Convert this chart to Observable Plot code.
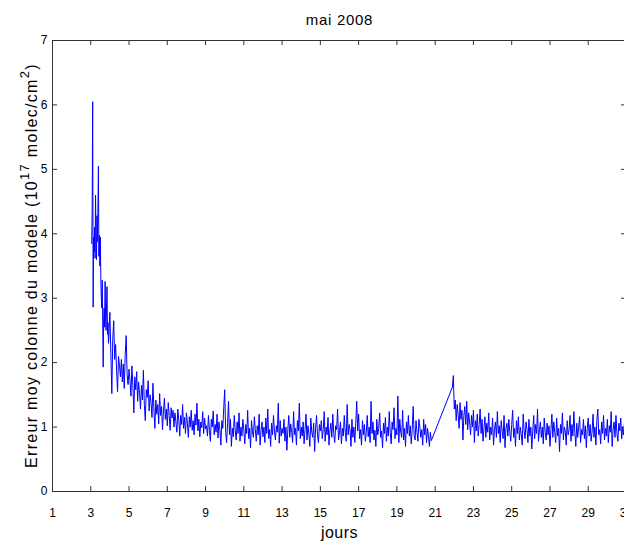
<!DOCTYPE html>
<html><head><meta charset="utf-8">
<script src="https://cdn.jsdelivr.net/npm/d3@7"></script>
<script src="https://cdn.jsdelivr.net/npm/@observablehq/plot@0.6"></script>
<style>
html,body{margin:0;padding:0;background:#fff;overflow:hidden}
#chart{width:624px;height:542px;overflow:hidden}
</style></head><body><div id="chart"></div>
<script>
// Texts
const titre = "mai 2008";
const labelX = "jours";
const labelYDebut = "Erreur moy colonne du modele (10";
const exposant1 = "17";
const labelYMilieu = " molec/cm";
const exposant2 = "2";
const labelYFin = ")";

// Ticks
const xTicks = [1, 3, 5, 7, 9, 11, 13, 15, 17, 19, 21, 23, 25, 27, 29, 31];
const yTicks = [0, 1, 2, 3, 4, 5, 6, 7];

// Series values (hundredths of 10^17 molec/cm2), each block: start day, step (days), values
const debutJ3a4 = 3.05, pasJ3a4 = 0.025;
const erreurJ3a4 = [385,440,605,286,395,372,410,362,460,395,360,428,388,440,505,365,398,350,395,330,
  300,285,328,262,193,270,285,255,326,268,250,292,318,244,262,230,240,265,278];
const debutJ4a5 = 4.05, pasJ4a5 = 0.05;
const erreurJ4a5 = [215,152,238,265,205,228,188,155,210,196,178,205,170,198,160,212,242,182,166,190];
const debutJ5a9 = 5.05, pasJ5a9 = 0.05;
const erreurJ5a9 = [172,148,195,165,122,178,158,186,140,170,152,128,
  165,142,188,135,110,158,146,172,125,150,
  138,115,168,128,98,142,120,135,105,152,118,132,96,125,145,112,128,102,138,118,95,130,114,126,100,122,
  108,92,128,112,86,118,104,135,98,115,90,122,106,84,116,100,126,95,110,88,120,103,137,94,112,85,108,99,124,90,114,97];
const debutJ9a15 = 9.05, pasJ9a15 = 0.05;
const erreurJ9a15 = [102,86,118,95,78,112,100,125,88,104,92,120,83,108,96,72,110,98,130,158,
  92,76,105,140,88,112,70,98,85,118,94,80,108,90,122,78,100,86,112,95,
  74,104,90,126,82,98,68,110,93,84,116,96,78,102,88,120,72,95,108,85,
  100,76,114,90,128,82,96,70,106,88,118,94,80,102,92,137,75,110,86,98,
  90,112,78,100,64,96,118,84,105,92,76,124,88,98,72,110,94,137,82,100,
  86,108,74,96,120,80,102,90,70,114,92,84,106,62,98,118,88,76,104,94];
const debutJ15a21 = 15.05, pasJ15a21 = 0.05;
const erreurJ15a21 = [110,82,96,124,78,100,88,115,72,94,106,84,120,90,76,102,96,128,80,92,
  108,74,98,86,118,92,78,135,88,104,96,70,112,84,100,76,106,140,94,120,
  82,96,72,110,88,104,78,92,118,85,100,76,140,90,108,80,95,70,112,88,
  98,122,84,94,68,106,90,115,78,100,86,124,92,74,108,96,130,82,98,88,
  148,76,112,92,84,126,80,98,70,108,90,118,86,102,74,96,132,88,80,110,
  92,78,112,100,84,96,72,112,88,104,76,98,86,70,92,79];
const debutJ22a27 = 21.90, pasJ22a27 = 0.05;
const erreurJ22a27 = [162,180,128,142,110,135,120,98,138,112,126,80,118,132,104,140,96,122,108,88,
  118,100,126,76,110,94,120,86,104,128,90,112,78,98,116,84,106,92,122,80,
  100,88,114,72,96,108,84,124,90,102,76,110,94,82,118,68,98,106,86,112,
  92,78,104,126,84,98,70,110,90,116,80,100,88,72,120,94,82,108,96,76,
  112,86,100,66,94,118,82,104,90,128,78,96,108,84,100,74,114,92,80,106];
const debutJ27a31 = 26.90, pasJ27a31 = 0.05;
const erreurJ27a31 = [88,102,70,96,120,84,108,92,76,114,86,98,62,104,90,122,80,100,94,72,
  110,88,96,118,78,104,86,124,92,70,106,84,100,116,76,96,88,112,82,102,
  68,98,114,86,104,78,92,120,84,100,72,110,128,88,96,74,108,90,118,80,
  98,86,112,76,102,92,124,70,96,108,84,118,90,78,106,94,114,82,100,88,
  110,80,96];

const blocs = [
  [debutJ3a4, pasJ3a4, erreurJ3a4], [debutJ4a5, pasJ4a5, erreurJ4a5], [debutJ5a9, pasJ5a9, erreurJ5a9],
  [debutJ9a15, pasJ9a15, erreurJ9a15], [debutJ15a21, pasJ15a21, erreurJ15a21],
  [debutJ22a27, pasJ22a27, erreurJ22a27], [debutJ27a31, pasJ27a31, erreurJ27a31]
];
const data = [];
blocs.forEach(([debut, pas, vals]) => vals.forEach((v, i) => data.push({jour: debut + i * pas, erreur: v / 100})));

const W = 627, H = 542, mL = 52, mR = 1, mT = 40, mB = 51;
const font = "'Liberation Sans', Arial, Helvetica, sans-serif";
const frameW = W - mL - mR, frameH = H - mT - mB, tick = 5;
const axisColor = "#333";

const plot = Plot.plot({
  width: W, height: H,
  marginLeft: mL, marginRight: mR, marginTop: mT, marginBottom: mB,
  style: {fontFamily: font, fontSize: "12px", color: "#000", background: "#fff", maxWidth: "none"},
  x: {domain: [1, 31]},
  y: {domain: [0, 7]},
  marks: [
    Plot.line(data, {x: "jour", y: "erreur", stroke: "#0000ff", strokeWidth: 1}),
    Plot.frame({stroke: axisColor}),
    Plot.ruleX(xTicks, {x: d => d, insetTop: frameH - tick, stroke: axisColor}),
    Plot.ruleX(xTicks, {x: d => d, insetBottom: frameH - tick, stroke: axisColor}),
    Plot.ruleY(yTicks, {y: d => d, insetRight: frameW - tick, stroke: axisColor}),
    Plot.ruleY(yTicks, {y: d => d, insetLeft: frameW - tick, stroke: axisColor}),
    Plot.axisX(xTicks, {tickSize: 0, tickPadding: 17, label: null, tickFormat: d => String(d)}),
    Plot.axisY(yTicks, {tickSize: 0, tickPadding: 5, label: null, tickFormat: d => String(d)}),
    Plot.text([titre], {frameAnchor: "top", dy: -20, fontSize: 15, lineAnchor: "middle", fill: "#000"}),
    Plot.text([labelX], {frameAnchor: "bottom", dy: 41, fontSize: 16, lineAnchor: "middle", fill: "#000"})
  ]
});

d3.select(plot).selectAll("text").filter(function() { return this.textContent === titre; }).attr("letter-spacing", 0.7);
d3.select(plot).selectAll("text").filter(function() { return this.textContent === labelX; }).attr("letter-spacing", 0.5);

// Y label with superscripts
const yl = d3.select(plot).append("text")
  .attr("transform", `translate(37,${mT + frameH / 2}) rotate(-90)`)
  .attr("text-anchor", "middle")
  .attr("font-family", font)
  .attr("font-size", 16)
  .attr("letter-spacing", 1.3)
  .attr("fill", "#000")
  .style("white-space", "pre");
yl.append("tspan").text(labelYDebut);
yl.append("tspan").attr("dy", -8).attr("font-size", 13).text(exposant1);
yl.append("tspan").attr("dy", 8).text(labelYMilieu);
yl.append("tspan").attr("dy", -8).attr("font-size", 13).text(exposant2);
yl.append("tspan").attr("dy", 8).text(labelYFin);

document.getElementById("chart").appendChild(plot);
</script></body></html>
